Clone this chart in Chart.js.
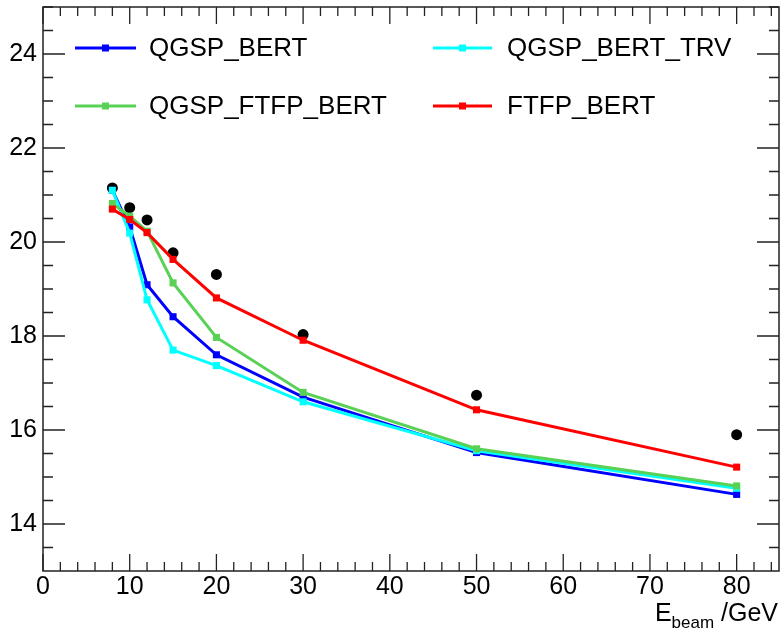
<!DOCTYPE html>
<html>
<head>
<meta charset="utf-8">
<script src="https://cdn.jsdelivr.net/npm/chart.js@4"></script>
<style>
  html, body { margin: 0; padding: 0; background: #fff; }
  canvas { display: block; }
</style>
</head>
<body>
<canvas id="canvas" width="780" height="631"></canvas>
<script>
const energies = [8, 10, 12, 15, 20, 30, 50, 80];
const dataVals = [21.15, 20.73, 20.47, 19.77, 19.31, 18.03, 16.74, 15.90];
const qgspBert = [21.10, 20.32, 19.09, 18.41, 17.60, 16.70, 15.52, 14.63];
const qgspBertTrv = [21.10, 20.19, 18.77, 17.70, 17.37, 16.60, 15.56, 14.76];
const qgspFtfpBert = [20.82, 20.55, 20.23, 19.13, 17.97, 16.80, 15.60, 14.81];
const ftfpBert = [20.70, 20.48, 20.20, 19.63, 18.81, 17.91, 16.43, 15.21];
const xTicks = [0, 10, 20, 30, 40, 50, 60, 70, 80];
const yTicks = [14, 16, 18, 20, 22, 24];
const legendLabels = ['QGSP_BERT', 'QGSP_BERT_TRV', 'QGSP_FTFP_BERT', 'FTFP_BERT'];

const FONT = '"Liberation Sans", Arial, sans-serif';
const colors = {
  'QGSP_BERT': '#0000ff',
  'QGSP_BERT_TRV': '#00ffff',
  'QGSP_FTFP_BERT': '#58d155',
  'FTFP_BERT': '#ff0000'
};

function pts(ys) {
  return energies.map((x, i) => ({ x: x, y: ys[i] }));
}

function mcSet(label, ys, order) {
  return {
    label: label,
    data: pts(ys),
    showLine: true,
    borderColor: colors[label],
    backgroundColor: colors[label],
    borderWidth: 3,
    pointStyle: 'rect',
    pointRadius: 5,
    pointBorderWidth: 0,
    order: order
  };
}

// ROOT-like frame with inward ticks on all four sides
const framePlugin = {
  id: 'frame',
  afterDatasetsDraw(chart) {
    const { ctx, chartArea: a, scales } = chart;
    const xs = scales.x, ys = scales.y;
    ctx.save();
    ctx.strokeStyle = '#222';
    ctx.lineWidth = 1.5;
    ctx.beginPath();
    ctx.rect(a.left, a.top, a.right - a.left - 1, a.bottom - a.top);
    ctx.stroke();
    ctx.lineWidth = 1.3;
    ctx.beginPath();
    for (let v = 0; v <= 85; v += 2) {
      const px = xs.getPixelForValue(v);
      const len = v % 10 === 0 ? 17 : 9;
      ctx.moveTo(px, a.bottom); ctx.lineTo(px, a.bottom - len);
      ctx.moveTo(px, a.top); ctx.lineTo(px, a.top + len);
    }
    for (let v = 13.5; v <= 25; v += 0.5) {
      const py = ys.getPixelForValue(v);
      const len = v % 2 === 0 ? 22 : 10;
      ctx.moveTo(a.left, py); ctx.lineTo(a.left + len, py);
      ctx.moveTo(a.right - 1, py); ctx.lineTo(a.right - 1 - len, py);
    }
    ctx.stroke();
    ctx.restore();
  },
  afterDraw(chart) {
    const ctx = chart.ctx;
    ctx.save();
    // legend, two columns inside the frame
    const cols = [{ x0: 75, x1: 136, tx: 149 }, { x0: 433, x1: 492, tx: 507 }];
    const rows = [48, 106];
    legendLabels.forEach((lab, i) => {
      const c = cols[i % 2], y = rows[Math.floor(i / 2)];
      ctx.strokeStyle = colors[lab];
      ctx.fillStyle = colors[lab];
      ctx.lineWidth = 3;
      ctx.beginPath();
      ctx.moveTo(c.x0, y); ctx.lineTo(c.x1, y);
      ctx.stroke();
      const mx = (c.x0 + c.x1) / 2;
      ctx.fillRect(mx - 3.5, y - 3.5, 7, 7);
      ctx.fillStyle = '#000';
      ctx.font = '26px ' + FONT;
      ctx.textBaseline = 'middle';
      ctx.textAlign = 'left';
      ctx.fillText(lab, c.tx, y + 1);
    });
    // axis title E_beam /GeV, right aligned
    ctx.fillStyle = '#000';
    ctx.textBaseline = 'alphabetic';
    ctx.textAlign = 'left';
    const big = '25px ' + FONT, small = '17px ' + FONT;
    ctx.font = big; const wE = ctx.measureText('E').width; const wG = ctx.measureText(' /GeV').width;
    ctx.font = small; const wB = ctx.measureText('beam').width;
    let x = 778 - (wE + wB + wG);
    const base = 621;
    ctx.font = big; ctx.fillText('E', x, base); x += wE;
    ctx.font = small; ctx.fillText('beam', x, base + 7); x += wB;
    ctx.font = big; ctx.fillText(' /GeV', x, base);
    ctx.restore();
  }
};

new Chart(document.getElementById('canvas'), {
  type: 'scatter',
  data: {
    datasets: [
      mcSet('FTFP_BERT', ftfpBert, 0),
      mcSet('QGSP_FTFP_BERT', qgspFtfpBert, 1),
      mcSet('QGSP_BERT_TRV', qgspBertTrv, 2),
      mcSet('QGSP_BERT', qgspBert, 3),
      {
        label: 'Data',
        data: pts(dataVals),
        showLine: false,
        backgroundColor: '#000',
        borderColor: '#000',
        pointStyle: 'circle',
        pointRadius: 5.5,
        pointBorderWidth: 0,
        order: 4
      }
    ]
  },
  options: {
    responsive: false,
    animation: false,
    events: [],
    layout: { autoPadding: false, padding: { top: 7, right: 0, left: 0, bottom: 0 } },
    plugins: { legend: { display: false }, tooltip: { enabled: false } },
    scales: {
      x: {
        type: 'linear', min: 0, max: 85,
        grid: { display: false, drawTicks: false },
        border: { display: false },
        afterBuildTicks: s => { s.ticks = xTicks.map(v => ({ value: v })); },
        afterFit: s => { s.height = 60; s.paddingLeft = 0; s.paddingRight = 0; },
        ticks: { color: '#000', padding: 1, maxRotation: 0, autoSkip: false,
                 font: { family: FONT, size: 25, lineHeight: 1.2 } }
      },
      y: {
        type: 'linear', min: 13, max: 25,
        grid: { display: false, drawTicks: false },
        border: { display: false },
        afterBuildTicks: s => { s.ticks = yTicks.map(v => ({ value: v })); },
        afterFit: s => { s.width = 43; s.paddingTop = 0; s.paddingBottom = 0; },
        ticks: { color: '#000', padding: 6, autoSkip: false,
                 font: { family: FONT, size: 25 } }
      }
    }
  },
  plugins: [framePlugin]
});
</script>
</body>
</html>
